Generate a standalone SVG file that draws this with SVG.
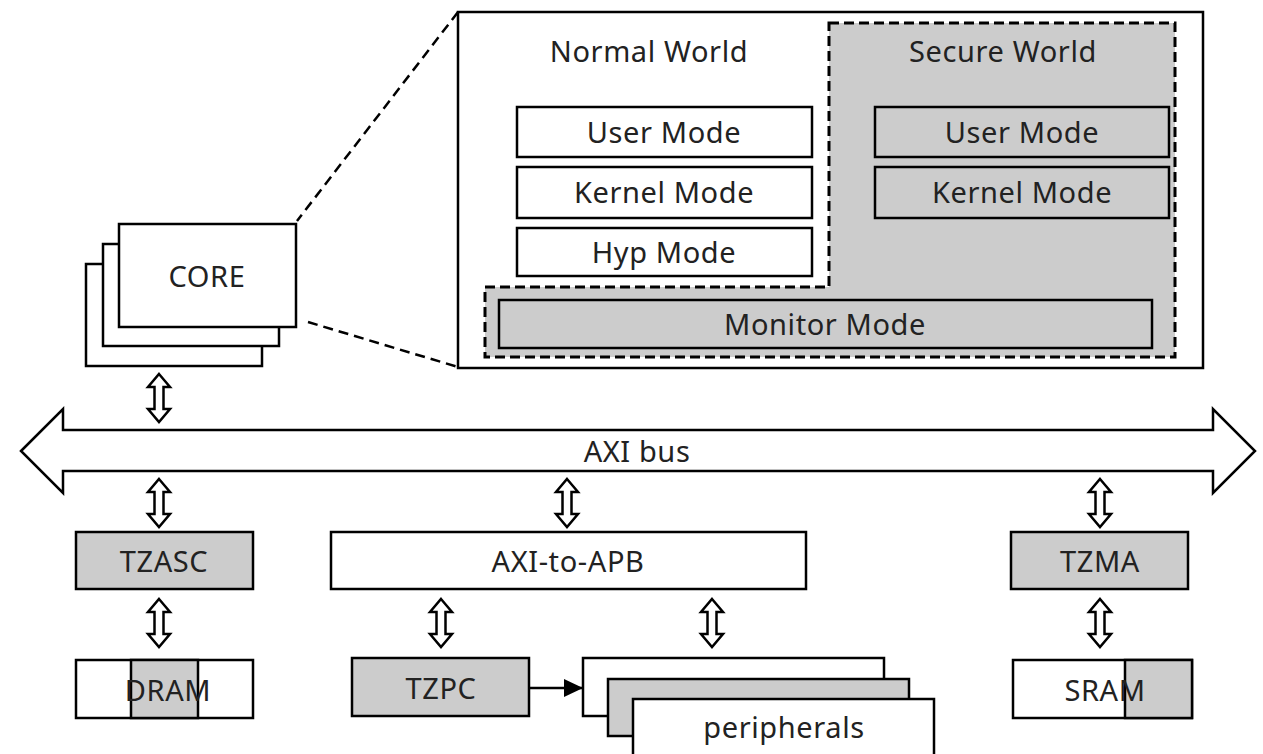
<svg xmlns="http://www.w3.org/2000/svg" width="1263" height="754" viewBox="0 0 1263 754">
<defs>
<style>
.box{fill:#fff;stroke:#000;stroke-width:2.5}
.gbox{fill:#ccc;stroke:#000;stroke-width:2.5}
.t{font-family:"Noto Sans","Open Sans",sans-serif;font-size:29px;letter-spacing:0.6px;fill:#222;text-anchor:middle}
.zoom{fill:none;stroke:#000;stroke-width:2.5;stroke-dasharray:10 6}
.sec{fill:#ccc;stroke:#000;stroke-width:3;stroke-dasharray:10 5}
.line{fill:none;stroke:#000;stroke-width:2.5}
</style>
<path id="dbl" d="M0,0 L11,13 L4.5,13 L4.5,35 L11,35 L0,48 L-11,35 L-4.5,35 L-4.5,13 L-11,13 Z" fill="#fff" stroke="#000" stroke-width="2.5"/>
<marker id="tri" markerWidth="20" markerHeight="18" refX="19" refY="9" orient="auto" markerUnits="userSpaceOnUse">
<path d="M0,0 L19,9 L0,18 Z" fill="#000"/>
</marker>
</defs>
<rect width="1263" height="754" fill="#fff"/>

<g id="core">
<rect class="box" x="86" y="264" width="176" height="102"/>
<rect class="box" x="103" y="244" width="176" height="102"/>
<rect class="box" x="119" y="224" width="177" height="103"/>
<text class="t" x="207" y="287">CORE</text>
</g>

<g id="worlds">
<rect class="box" x="458" y="12" width="745" height="356"/>
<path class="sec" d="M829,23 H1175 V357 H485 V287 H829 Z"/>
<text class="t" x="649" y="62">Normal World</text>
<text class="t" x="1003" y="62">Secure World</text>
</g>

<g id="normal-user"><rect class="box" x="517" y="107" width="295" height="50"/><text class="t" x="664" y="143">User Mode</text></g>
<g id="normal-kernel"><rect class="box" x="517" y="167" width="295" height="51"/><text class="t" x="664" y="203">Kernel Mode</text></g>
<g id="normal-hyp"><rect class="box" x="517" y="228" width="295" height="48"/><text class="t" x="664" y="263">Hyp Mode</text></g>
<g id="secure-user"><rect class="gbox" x="875" y="107" width="294" height="50"/><text class="t" x="1022" y="143">User Mode</text></g>
<g id="secure-kernel"><rect class="gbox" x="875" y="167" width="294" height="51"/><text class="t" x="1022" y="203">Kernel Mode</text></g>
<g id="monitor"><rect class="gbox" x="499" y="300" width="653" height="48"/><text class="t" x="825" y="335">Monitor Mode</text></g>

<g id="axi-bus">
<path class="box" d="M21,451 L63,409 L63,430 L1213,430 L1213,409 L1255,451 L1213,493 L1213,471 L63,471 L63,493 Z"/>
<text class="t" x="637" y="462">AXI bus</text>
</g>

<g id="tzasc"><rect class="gbox" x="76" y="532" width="177" height="57"/><text class="t" x="164" y="572">TZASC</text></g>
<g id="dram">
<rect class="box" x="76" y="660" width="177" height="58"/>
<rect class="gbox" x="131" y="660" width="67" height="58"/>
<text class="t" x="168" y="701">DRAM</text>
</g>
<g id="axi-to-apb"><rect class="box" x="331" y="532" width="475" height="57"/><text class="t" x="568" y="572">AXI-to-APB</text></g>
<g id="tzpc"><rect class="gbox" x="352" y="658" width="177" height="58"/><text class="t" x="441" y="699">TZPC</text></g>
<g id="peripherals">
<rect class="box" x="583" y="658" width="301" height="58"/>
<rect class="gbox" x="608" y="679" width="301" height="57"/>
<rect class="box" x="633" y="699" width="301" height="70"/>
<text class="t" x="784" y="738">peripherals</text>
</g>
<g id="tzma"><rect class="gbox" x="1011" y="532" width="177" height="57"/><text class="t" x="1100" y="572">TZMA</text></g>
<g id="sram">
<rect class="box" x="1013" y="660" width="179" height="58"/>
<rect class="gbox" x="1125" y="660" width="67" height="58"/>
<text class="t" x="1105" y="701">SRAM</text>
</g>

<g id="connectors">
<path class="zoom" d="M458,12 L297,221"/>
<path class="zoom" d="M308,322 L458,367"/>
<use href="#dbl" x="159" y="374"/>
<use href="#dbl" x="159" y="479"/>
<use href="#dbl" x="159" y="599"/>
<use href="#dbl" x="567" y="479"/>
<use href="#dbl" x="441" y="599"/>
<use href="#dbl" x="712" y="599"/>
<use href="#dbl" x="1100" y="479"/>
<use href="#dbl" x="1100" y="599"/>
<path class="line" d="M529,688 L583,688" marker-end="url(#tri)"/>
</g>
</svg>
